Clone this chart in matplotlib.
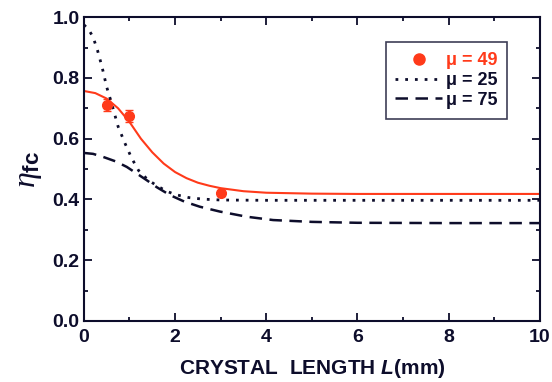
import numpy as np
import matplotlib.pyplot as plt
from matplotlib.ticker import MultipleLocator
from matplotlib.lines import Line2D

plt.rcParams['font.family'] = ['Liberation Sans', 'DejaVu Sans']
plt.rcParams['mathtext.fontset'] = 'custom'
plt.rcParams['mathtext.rm'] = 'Liberation Sans:bold'
plt.rcParams['mathtext.bf'] = 'Liberation Sans:bold'
plt.rcParams['mathtext.it'] = 'Liberation Serif:italic'
plt.rcParams['mathtext.bfit'] = 'Liberation Sans:bold:italic'

# dados
x_exp = [0.5, 1.0, 3.0]
eta_exp = [0.71, 0.675, 0.42]
err_exp = [0.02, 0.02, 0.01]

x_49 = [0, 0.25, 0.5, 0.75, 1.0, 1.25, 1.5, 1.75, 2.0, 2.25, 2.5, 2.75, 3.0, 3.5, 4.0, 5, 6, 8, 10]
eta_49 = [0.757, 0.750, 0.732, 0.700, 0.655, 0.600, 0.555, 0.518, 0.490, 0.470, 0.455, 0.445, 0.437, 0.427, 0.422, 0.419, 0.418, 0.418, 0.418]

x_25 = [0, 0.1, 0.2, 0.3, 0.4, 0.5, 0.6, 0.75, 0.9, 1.05, 1.2, 1.4, 1.6, 1.8, 2.0, 2.3, 2.6, 3.0, 4, 10]
eta_25 = [0.975, 0.96, 0.935, 0.89, 0.835, 0.77, 0.72, 0.64, 0.585, 0.535, 0.495, 0.465, 0.445, 0.428, 0.416, 0.406, 0.401, 0.398, 0.397, 0.397]

x_75 = [0, 0.2, 0.42, 0.7, 0.94, 1.15, 1.37, 1.6, 1.89, 2.2, 2.54, 2.98, 3.57, 4.15, 5.0, 6, 8, 10]
eta_75 = [0.553, 0.55, 0.54, 0.525, 0.507, 0.486, 0.464, 0.44, 0.414, 0.393, 0.376, 0.36, 0.343, 0.332, 0.326, 0.323, 0.322, 0.322]

rotulos = ['μ = 49', 'μ = 25', 'μ = 75']

vermelho = '#ff3a1a'
escuro = '#0d0d2b'

fig = plt.figure(figsize=(5.52, 3.82), dpi=100)
ax = fig.add_axes([0.152, 0.160, 0.826, 0.795])

ax.plot(x_49, eta_49, color=vermelho, lw=1.5)
ax.errorbar(x_exp, eta_exp, yerr=err_exp, fmt='o', color=vermelho, ms=7,
            capsize=3, elinewidth=1)
ax.plot(x_25, eta_25, color=escuro, lw=2, linestyle=(0, (1, 2.5)))
ax.plot(x_75, eta_75, color=escuro, lw=1.8, linestyle=(0, (5, 3)))

ax.set_xlim(0, 10)
ax.set_ylim(0, 1.0)
ax.xaxis.set_major_locator(MultipleLocator(2))
ax.xaxis.set_minor_locator(MultipleLocator(1))
ax.yaxis.set_major_locator(MultipleLocator(0.2))
ax.yaxis.set_minor_locator(MultipleLocator(0.1))
ax.yaxis.set_major_formatter(plt.FormatStrFormatter('%.1f'))
ax.tick_params(which='both', direction='in', top=True, right=True, color=escuro, width=1.3)
ax.tick_params(which='major', length=6, labelsize=14, labelcolor=escuro, pad=3)
ax.tick_params(axis='x', which='major', pad=6)
ax.tick_params(which='minor', length=3)
for lab in ax.get_xticklabels() + ax.get_yticklabels():
    lab.set_fontweight('bold')
for s in ax.spines.values():
    s.set_color(escuro)
    s.set_linewidth(1.5)

ax.set_xlabel(r'CRYSTAL  LENGTH $\mathbfit{L}$(mm)', fontsize=15, fontweight='bold',
              color=escuro, labelpad=8)
ax.set_ylabel(r'$\mathit{\eta}_{\mathbf{fc}}$', fontsize=23, color=escuro, labelpad=6)

# legenda com alças manuais (ponto sem barra de erro)
alcas = [Line2D([], [], color=vermelho, marker='o', ms=8, linestyle='none'),
         Line2D([], [], color=escuro, lw=2, linestyle=(0, (1, 2.5))),
         Line2D([], [], color=escuro, lw=1.8, linestyle=(0, (5, 3)))]
leg = ax.legend(alcas, rotulos, loc='upper right', bbox_to_anchor=(0.929, 0.917), fontsize=13,
                frameon=True, fancybox=False, edgecolor=escuro, handlelength=2.6,
                borderpad=0.55, labelspacing=0.15, handletextpad=0.2, borderaxespad=0)
leg.get_frame().set_linewidth(1.2)
cores = [vermelho, escuro, escuro]
for t, c in zip(leg.get_texts(), cores):
    t.set_color(c)
    t.set_fontweight('bold')

fig.savefig('out.png', dpi=100)
